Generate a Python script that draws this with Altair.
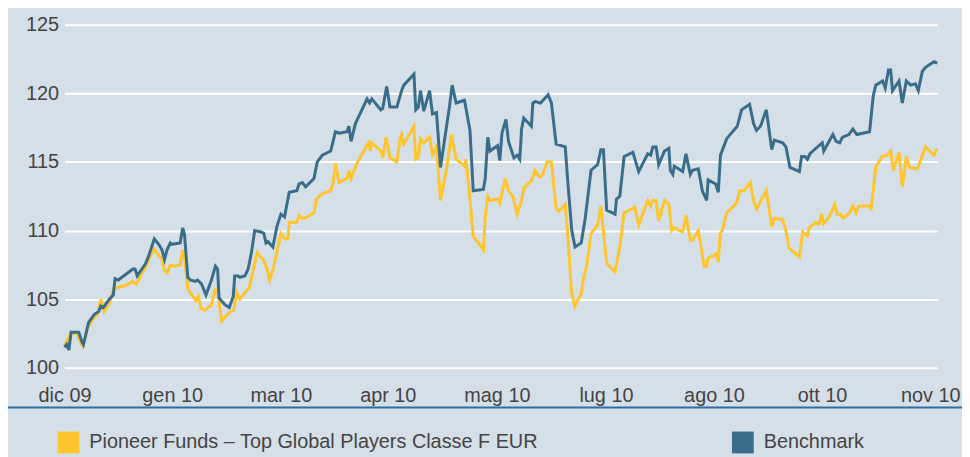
import altair as alt
import pandas as pd

# x positions in trading-day index (0 = first day, 240 = last day)
bench_t = [0.0, 0.6, 1.2, 1.8, 3.9, 4.8, 5.2, 6.6, 8.2, 9.4, 10.0, 10.7, 12.3, 13.4, 13.9, 14.8,
           18.8, 19.4, 20.0, 22.3, 23.2, 24.7, 25.9, 26.8, 27.5, 28.2, 29.1, 29.5, 31.8, 32.5, 33.0,
           33.9, 34.6, 35.9, 36.6, 37.7, 38.9, 40.4, 41.5, 42.1, 42.5, 44.1, 45.3, 46.4, 46.8, 47.7,
           48.2, 49.6, 50.5, 51.4, 52.3, 54.1, 54.8, 55.4, 55.9, 57.3, 58.4, 59.5, 60.5, 61.8, 63.9,
           64.5, 65.4, 66.3, 68.6, 69.5, 70.9, 73.2, 74.5, 75.5, 77.7, 78.2, 78.8, 80.0, 83.2, 83.9,
           84.5, 87.0, 87.5, 88.6, 89.5, 91.4, 92.7, 93.3, 96.1, 96.6, 97.3, 97.9, 98.8, 100.4, 101.2,
           102.3, 103.4, 105.0, 105.9, 106.6, 107.7, 110.0, 111.5, 112.4, 115.2, 115.7, 116.4, 117.0,
           119.1, 119.7, 120.3, 121.4, 122.1, 123.6, 124.5, 125.2, 125.7, 126.3, 128.4, 128.8, 129.5,
           130.9, 133.0, 133.9, 135.2, 137.7, 138.6, 139.5, 140.4, 142.1, 143.2, 144.8, 146.6, 147.5,
           148.2, 149.1, 151.4, 151.8, 152.7, 153.9, 156.3, 157.9, 160.4, 161.2, 161.8, 162.7, 163.4,
           165.0, 166.2, 166.6, 167.3, 167.7, 170.0, 170.9, 172.1, 172.7, 174.3, 175.4, 176.6, 177.0,
           179.1, 179.8, 180.4, 182.1, 185.0, 186.2, 188.4, 189.5, 190.3, 191.4, 193.0, 194.5, 195.2,
           197.5, 198.4, 199.5, 202.1, 202.7, 203.6, 204.3, 205.0, 207.5, 208.4, 208.8, 211.3, 212.2,
           213.2, 213.9, 215.7, 216.8, 217.9, 221.4, 222.4, 223.1, 225.0, 225.7, 226.6, 227.2, 227.7,
           229.5, 230.4, 231.5, 232.7, 234.0, 234.8, 235.9, 236.8, 239.1, 240.0]
bench_v = [101.5, 101.7, 101.3, 102.6, 102.6, 101.9, 101.7, 103.3, 103.9, 104.1, 104.5, 104.4, 105.0, 105.3, 106.5, 106.4,
           107.2, 107.2, 106.7, 107.6, 108.2, 109.4, 109.0, 108.6, 107.9, 108.6, 109.1, 109.0, 109.1, 110.2, 109.7,
           106.6, 106.4, 106.3, 106.4, 106.1, 105.3, 106.4, 107.4, 107.2, 105.1, 104.6, 104.4, 105.2, 106.7, 106.7,
           106.6, 106.7, 107.2, 108.4, 110.0, 109.9, 109.8, 109.1, 109.2, 108.8, 110.3, 111.2, 111.0, 112.8, 112.9,
           113.4, 113.5, 113.2, 113.8, 115.0, 115.5, 115.8, 117.2, 117.1, 117.2, 117.6, 116.5, 117.8, 119.6, 119.3,
           119.6, 118.8, 118.9, 120.5, 119.0, 119.0, 120.2, 120.6, 121.4, 118.8, 119.0, 120.2, 118.7, 120.2, 118.5,
           118.6, 114.6, 117.5, 119.1, 120.6, 119.3, 119.5, 117.3, 112.9, 113.0, 113.8, 116.8, 115.8,
           116.2, 115.1, 117.1, 118.1, 116.5, 115.3, 115.5, 115.2, 117.4, 118.2, 117.6, 119.3, 119.4,
           119.3, 119.9, 119.3, 116.3, 116.1, 112.9, 110.0, 108.8, 109.1, 110.9, 114.4, 114.8, 115.9,
           115.9, 111.5, 111.2, 112.3, 112.5, 115.4, 115.7, 114.3, 115.6, 115.5, 116.1, 116.1, 114.8,
           115.8, 116.0, 114.4, 114.1, 114.7, 114.3, 115.6, 114.1, 114.4, 114.5, 112.9, 112.2, 113.7,
           113.4, 112.8, 115.5, 116.7, 117.6, 118.8, 119.2, 117.8, 117.3, 117.6, 118.8, 115.9, 116.6,
           116.4, 116.1, 114.6, 114.3, 115.4, 115.4, 115.2, 115.6, 116.2, 116.4, 115.8, 117.0, 116.5,
           116.4, 116.8, 117.0, 117.4, 117.0, 117.2, 119.8, 120.6, 120.9, 120.4, 121.7, 121.7, 120.2,
           120.9, 119.3, 120.9, 120.6, 120.7, 120.2, 121.6, 121.9, 122.3, 122.2]

fund_t = [0.0, 0.9, 1.8, 3.4, 4.3, 5.0, 6.4, 7.7, 9.1, 10.0, 10.9, 12.3, 13.6, 16.8, 18.8, 19.7,
          22.4, 24.5, 25.9, 26.8, 27.5, 28.2, 29.1, 30.0, 31.8, 32.5, 33.0, 33.9, 35.0, 36.1, 36.8,
          37.6, 38.6, 40.4, 41.4, 42.1, 43.2, 45.5, 46.6, 47.3, 48.2, 50.9, 52.1, 53.0, 54.8, 55.7,
          56.4, 57.5, 59.5, 60.6, 61.4, 61.8, 63.9, 64.5, 65.4, 66.1, 68.6, 69.3, 70.9, 73.2, 73.9,
          74.5, 75.5, 77.7, 78.2, 78.8, 80.4, 83.6, 84.1, 84.5, 87.0, 87.5, 88.4, 89.5, 91.4, 92.3,
          92.7, 93.3, 96.1, 96.6, 97.3, 97.9, 98.8, 100.4, 101.2, 102.3, 103.4, 105.0, 106.4, 107.7,
          110.0, 110.4, 111.3, 112.4, 115.2, 115.7, 116.4, 117.0, 119.1, 119.7, 121.2, 122.1, 123.3,
          124.5, 125.7, 126.3, 128.6, 129.3, 130.6, 131.4, 132.7, 133.9, 135.2, 135.9, 137.7, 138.4,
          139.4, 140.3, 142.1, 142.7, 143.6, 144.8, 146.6, 147.5, 149.1, 151.4, 152.7, 153.9, 156.8,
          157.9, 160.4, 161.2, 161.8, 162.7, 163.4, 165.0, 166.2, 167.0, 167.7, 170.0, 170.9, 172.1,
          172.7, 174.3, 175.9, 176.6, 177.0, 179.4, 179.8, 180.3, 180.9, 182.1, 184.8, 185.7, 186.8,
          188.6, 189.5, 190.3, 193.0, 194.5, 195.2, 197.5, 198.4, 199.3, 202.1, 203.0, 204.3, 204.8,
          206.6, 207.5, 208.2, 208.7, 210.3, 211.8, 212.5, 213.4, 214.1, 215.9, 216.8, 217.7, 218.4,
          221.4, 221.8, 223.1, 224.8, 226.3, 227.2, 227.9, 229.5, 230.4, 231.5, 232.4, 234.5, 235.4,
          236.8, 239.1, 240.0]
fund_v = [101.6, 102.1, 102.5, 102.5, 101.9, 101.6, 102.9, 103.5, 103.9, 105.0, 104.1, 104.7, 105.8, 106.0, 106.3, 106.1,
          107.4, 108.7, 108.2, 107.9, 107.1, 106.9, 107.5, 107.4, 107.5, 108.6, 108.0, 105.8, 105.3, 104.9, 105.2,
          104.3, 104.2, 104.6, 105.7, 105.6, 103.4, 104.1, 104.2, 105.5, 105.0, 105.9, 107.4, 108.4, 107.8, 107.2,
          106.4, 107.3, 109.8, 109.4, 109.4, 110.6, 110.6, 111.1, 110.9, 110.9, 111.3, 112.3, 112.7, 112.9, 113.5,
          114.9, 113.5, 113.8, 114.4, 113.8, 114.9, 116.4, 115.8, 116.4, 115.8, 115.3, 116.8, 115.3, 115.0, 116.7,
          117.0, 116.3, 117.6, 115.2, 115.3, 116.7, 116.4, 116.8, 115.5, 116.1, 112.2, 114.4, 117.0, 115.2,
          114.7, 115.2, 112.9, 109.6, 108.6, 111.0, 112.5, 112.2, 112.3, 112.0, 113.8, 112.9, 112.5,
          111.2, 112.2, 113.1, 113.7, 114.4, 113.9, 114.0, 115.0, 115.0, 111.6, 111.4, 111.9, 109.7,
          105.6, 104.5, 105.4, 106.5, 107.4, 109.8, 110.4, 111.8, 107.6, 107.0, 108.8, 111.3, 111.7,
          110.4, 112.2, 111.8, 112.2, 112.2, 110.7, 112.2, 111.9, 110.0, 110.2, 109.9, 111.1, 109.3,
          109.3, 110.0, 107.4, 107.4, 108.0, 108.3, 107.7, 109.8, 110.0, 111.3, 112.0, 112.9, 112.9,
          113.5, 112.2, 111.6, 112.9, 110.3, 110.9, 110.8, 110.0, 108.7, 108.1, 109.9, 109.6, 110.2,
          110.6, 110.5, 111.2, 110.5, 111.0, 111.9, 111.2, 111.2, 110.9, 111.3, 111.8, 111.3, 111.8,
          111.8, 111.5, 114.6, 115.4, 115.5, 115.8, 114.4, 115.7, 113.2, 115.4, 114.6, 114.5, 115.1,
          116.1, 115.5, 116.0]

series_names = ["Pioneer Funds – Top Global Players Classe F EUR", "Benchmark"]
series_colors = ["#fec52e", "#3a6d89"]

tick_pos = [0, 29.6, 59.5, 88.9, 118.9, 148.9, 178.6, 208.3, 238.1]
tick_labels = ["dic 09", "gen 10", "mar 10", "apr 10", "mag 10", "lug 10", "ago 10", "ott 10", "nov 10"]
y_ticks = [100, 105, 110, 115, 120, 125]

df = pd.concat([
    pd.DataFrame({"t": fund_t, "v": fund_v, "series": series_names[0]}),
    pd.DataFrame({"t": bench_t, "v": bench_v, "series": series_names[1]}),
])

label_expr = "[{}][indexof([{}], datum.value)]".format(
    ",".join("'" + s + "'" for s in tick_labels),
    ",".join(repr(p) for p in tick_pos),
)

FONT = "Liberation Sans, Arial, sans-serif"
FS = 20
TXT = "#444444"

lines = alt.Chart(df).mark_line(strokeWidth=3, clip=False).encode(
    x=alt.X("t:Q", scale=alt.Scale(domain=[0, 240], nice=False, zero=False),
            axis=alt.Axis(values=tick_pos, labelExpr=label_expr, grid=False, domain=False,
                          ticks=False, tickSize=0, labelPadding=18, title=None,
                          labelFontSize=FS, labelColor=TXT, labelFont=FONT,
                          labelFlush=False, labelOverlap=False)),
    y=alt.Y("v:Q", scale=alt.Scale(domain=[100, 125], nice=False, zero=False),
            axis=alt.Axis(values=y_ticks, grid=True, gridColor="#ffffff", gridWidth=2,
                          domain=False, ticks=False, tickSize=0, labelPadding=6, title=None,
                          labelFontSize=FS, labelColor=TXT, labelFont=FONT)),
    color=alt.Color("series:N", scale=alt.Scale(domain=series_names, range=series_colors),
                    legend=alt.Legend(orient="none", legendX=-7, legendY=410, direction="horizontal",
                                      title=None, symbolType="square", symbolSize=121,
                                      symbolStrokeWidth=11, labelFontSize=FS, labelFont=FONT,
                                      labelColor=TXT, labelOffset=10, labelLimit=800,
                                      columnPadding=178, padding=0)),
)

rule = alt.Chart(pd.DataFrame({"k": [0]})).mark_rule(color="#2f6ea3", strokeWidth=2, clip=False).encode(
    x=alt.value(-57), x2=alt.value(905), y=alt.value(386)
)

chart = alt.layer(rule, lines).properties(
    width=880, height=346,
    padding={"left": 57, "top": 15, "right": 25, "bottom": 88},
    autosize=alt.AutoSizeParams(type="none"),
).configure(background="#d5dfe7").configure_view(stroke=None)

chart.save("out.html", embed_options={"renderer": "svg", "actions": False})
